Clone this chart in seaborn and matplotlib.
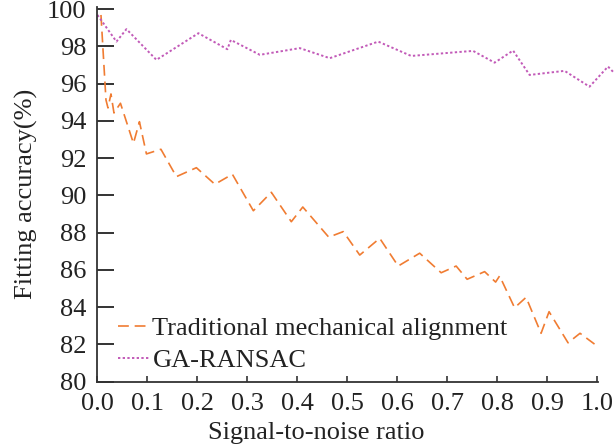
import numpy as np
import pandas as pd
import matplotlib
matplotlib.use("Agg")
import matplotlib.pyplot as plt
import seaborn as sns

# ---- data ----
trad_x = [0.007, 0.017, 0.021, 0.027, 0.033, 0.046, 0.072, 0.084, 0.098, 0.127,
          0.158, 0.198, 0.235, 0.270, 0.312, 0.348, 0.388, 0.411, 0.463, 0.492,
          0.525, 0.565, 0.602, 0.645, 0.688, 0.718, 0.740, 0.775, 0.797, 0.805,
          0.835, 0.858, 0.888, 0.904, 0.942, 0.966, 0.995]
trad_y = [99.69, 95.13, 94.70, 95.45, 94.43, 94.95, 92.80, 93.96, 92.23, 92.48,
          91.01, 91.49, 90.60, 91.14, 89.18, 90.17, 88.59, 89.38, 87.76, 88.06,
          86.80, 87.70, 86.21, 86.90, 85.85, 86.21, 85.50, 85.91, 85.35, 85.68,
          83.97, 84.53, 82.60, 83.76, 82.09, 82.60, 82.02]

ga_x = [0.000, 0.038, 0.058, 0.118, 0.202, 0.260, 0.267, 0.325, 0.405, 0.465,
        0.562, 0.628, 0.732, 0.752, 0.795, 0.832, 0.865, 0.935, 0.985, 1.022, 1.035]
ga_y = [99.69, 98.26, 98.93, 97.28, 98.71, 97.85, 98.35, 97.55, 97.91, 97.37,
        98.26, 97.49, 97.72, 97.76, 97.13, 97.78, 96.47, 96.69, 95.84, 96.92, 96.56]

labels = ["Traditional mechanical alignment", "GA-RANSAC"]
x_ticks = [0.0, 0.1, 0.2, 0.3, 0.4, 0.5, 0.6, 0.7, 0.8, 0.9, 1.0]
x_tick_labels = ["0.0", "0.1", "0.2", "0.3", "0.4", "0.5", "0.6", "0.7", "0.8", "0.9", "1.0"]
y_ticks = [80, 82, 84, 86, 88, 90, 92, 94, 96, 98, 100]
xlabel = "Signal-to-noise ratio"
ylabel = "Fitting accuracy(%)"

# ---- style ----
sns.set_theme(style="white")
plt.rcParams["font.family"] = ["Liberation Serif", "DejaVu Serif"]

fig = plt.figure(figsize=(6.15, 4.45), dpi=100)
ax = fig.add_axes([0.1585, 0.1422, 0.8415, 0.843])

orange = "#f07c32"
purple = "#c25ab8"

sns.lineplot(x=trad_x, y=trad_y, ax=ax, color=orange, label=labels[0],
             estimator=None, sort=False, lw=1.2, linestyle=(0, (6.5, 3.5)))
sns.lineplot(x=ga_x, y=ga_y, ax=ax, color=purple, label=labels[1],
             estimator=None, sort=False, lw=1.4, linestyle=(0, (1.2, 1.2)))

ax.set_xlim(0, 1.036)
ax.set_ylim(80, 100.14)
ax.set_xticks(x_ticks)
ax.set_xticklabels(x_tick_labels)
ax.set_yticks(y_ticks)
ax.set_yticklabels([str(v) for v in y_ticks])

for s in ["top", "right"]:
    ax.spines[s].set_visible(False)
for s in ["left", "bottom"]:
    ax.spines[s].set_color("#333333")
    ax.spines[s].set_linewidth(1.3)
ax.spines["bottom"].set_bounds(0, 1.002)

ax.tick_params(axis="y", direction="in", length=12, width=1.4, color="#333333",
               labelsize=19, pad=8, labelcolor="#222222", left=True)
ax.tick_params(axis="x", direction="in", length=4, width=1.2, color="#333333",
               labelsize=19, pad=8, labelcolor="#222222", bottom=True)

ax.set_xlabel(xlabel, fontsize=19, color="#222222")
ax.set_ylabel(ylabel, fontsize=19, color="#222222")
ax.xaxis.set_label_coords(0.423, -0.108)
ax.yaxis.set_label_coords(-0.115, 0.5)

leg = ax.legend(loc="upper left", bbox_to_anchor=(0.040, 0.174), frameon=False,
                fontsize=19, handlelength=1.15, handletextpad=0.15,
                borderpad=0, borderaxespad=0, labelspacing=0.33)
for t in leg.get_texts():
    t.set_color("#222222")

fig.savefig("out.png", dpi=100)
